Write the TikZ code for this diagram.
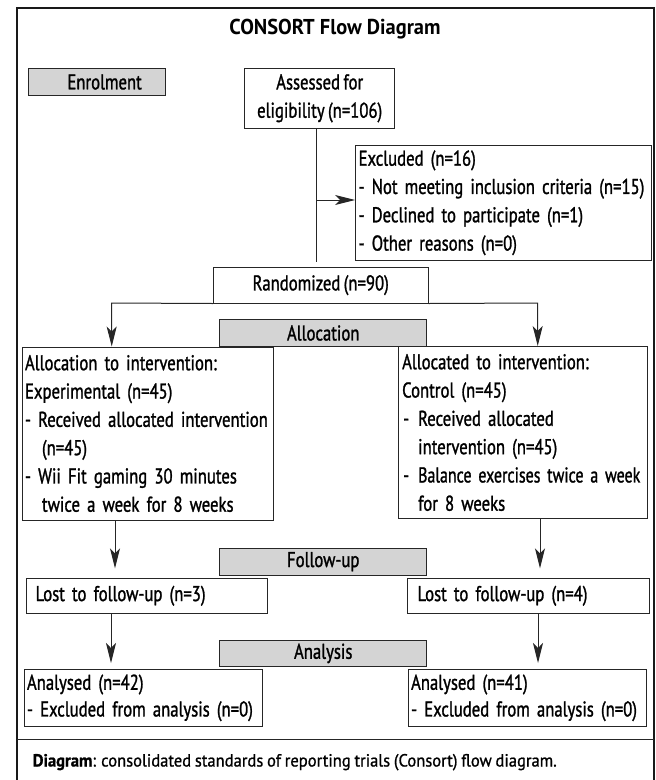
\documentclass[tikz,border=0pt]{standalone}
\usepackage{fontspec}
\usepackage{graphicx}
\setmainfont[FakeStretch=0.78,FakeBold=1.2,WordSpace=0.75]{PT Sans}
\newfontfamily\titlefont[FakeStretch=0.95]{PT Sans}
\newfontfamily\capfont[FakeStretch=0.94,FakeBold=1,WordSpace=0.85]{PT Sans}
\usetikzlibrary{arrows.meta}
\newcommand\boxfont{\fontsize{21.4}{28.3}\selectfont}
\definecolor{hdrgray}{HTML}{D4D4D4}
\begin{document}
\begin{tikzpicture}[x=1pt,y=-1pt,
  box/.style={draw=black!85, line width=1pt, inner sep=0pt, font=\boxfont},
  hdr/.style={box, fill=hdrgray},
  link/.style={line width=1pt, draw=black!85},
  arr/.style={link, -{Stealth[length=20pt,width=10pt,inset=5pt]}}]
\useasboundingbox (0,0) rectangle (656,780);
% frame
\draw[line width=2pt, draw=black!90] (17,782) -- (17,8.3) -- (653.5,8.3) -- (653.5,782);
\draw[line width=1.3pt, draw=black!85] (17,739.3) -- (653.5,739.3);
% title
\node[font=\titlefont\fontsize{21.5}{24}\selectfont\bfseries] (title) at (335,29) {CONSORT Flow Diagram};
% boxes
\node[hdr, minimum width=137.2pt, minimum height=27.4pt] (enrol) at (97.1,82) {\hspace*{15pt}Enrolment};
\node[box, minimum width=149.8pt, minimum height=60pt, align=center] (assess) at (319.7,98.3) {Assessed for\\eligibility (n=106)};
\node[box, minimum width=295.4pt, minimum height=114.3pt, inner xsep=3pt, text width=289.4pt, align=left] (excl) at (503.3,202.85)
  {Excluded (n=16)\\\mbox{- Not meeting inclusion criteria (n=15)}\\- Declined to participate (n=1)\\- Other reasons (n=0)};
\node[box, minimum width=214.6pt, minimum height=35.7pt] (rand) at (320.7,285.15) {Randomized (n=90)};
\node[hdr, minimum width=207.1pt, minimum height=27.4pt] (alloc) at (323.25,333) {Allocation};
\node[box, minimum width=251pt, minimum height=173pt, inner xsep=3pt, text width=245pt, align=left] (expL) at (147.5,433.5)
  {Allocation to intervention:\\Experimental (n=45)\\\mbox{- Received allocated intervention}\\\hspace*{17pt}(n=45)\\- Wii Fit gaming 30 minutes\\\hspace*{17pt}twice a week for 8 weeks};
\node[box, minimum width=249pt, minimum height=172pt, inner xsep=3.5pt, text width=242pt, align=left] (ctrl) at (523.15,432.5)
  {Allocated to intervention:\\Control (n=45)\\\makebox[16pt][l]{\hspace{1pt}-}Received allocated\\\hspace*{16pt}intervention (n=45)\\\mbox{\makebox[16pt][l]{\hspace{1pt}-}\scalebox{0.955}[1]{Balance exercises twice a week}}\\\hspace*{16pt}for 8 weeks};
\node[hdr, minimum width=207.1pt, minimum height=26.7pt] (follow) at (323.25,561.65) {Follow-up};
\node[box, minimum width=241.8pt, minimum height=35pt, inner xsep=9.6pt, text width=222.6pt, align=left] (lostL) at (146.9,595.8) {Lost to follow-up (n=3)};
\node[box, minimum width=242pt, minimum height=35pt, inner xsep=10pt, text width=222pt, align=left] (lostR) at (528.5,595.8) {Lost to follow-up (n=4)};
\node[hdr, minimum width=207.1pt, minimum height=26.7pt] (analysis) at (323.25,653.35) {Analysis};
\node[box, minimum width=238pt, minimum height=57.7pt, inner xsep=3pt, text width=232pt, align=left, font=\fontsize{21.4}{26.7}\selectfont] (anaL) at (143,697.85)
  {Analysed (n=42)\\- Excluded from analysis (n=0)};
\node[box, minimum width=237.4pt, minimum height=57.7pt, inner xsep=2.5pt, text width=232.4pt, align=left, font=\fontsize{21.4}{26.7}\selectfont] (anaR) at (527.3,697.85)
  {Analysed (n=41)\\- Excluded from analysis (n=0)};
% caption
\node[anchor=base west, inner sep=0pt, font=\capfont\fontsize{17.6}{22}\selectfont] (caption) at (32.6,766.5)
  {\textbf{Diagram}: consolidated standards of reporting trials (Consort) flow diagram.};
% connectors
\coordinate (a1) at (316,261.7);
\coordinate (a2) at (316,200);
\draw[link] (assess.south -| a1) -- (a1);
\draw[arr] (a2) -- (a2 -| excl.west);
\coordinate (rl) at (111.7,303);
\coordinate (rr) at (537.7,303);
\draw[arr] (rand.south west) -- (rl) -- (rl |- expL.north);
\draw[arr] (rand.south east) -- (rr) -- (rr |- ctrl.north);
\coordinate (b1) at (115,568.3);
\coordinate (b2) at (540,568.3);
\draw[arr] (expL.south -| b1) -- (b1);
\draw[arr] (ctrl.south -| b2) -- (b2);
\coordinate (c1) at (111,663);
\coordinate (c2) at (538,663);
\draw[arr] (lostL.south -| c1) -- (c1);
\draw[arr] (lostR.south -| c2) -- (c2);
\end{tikzpicture}
\end{document}
